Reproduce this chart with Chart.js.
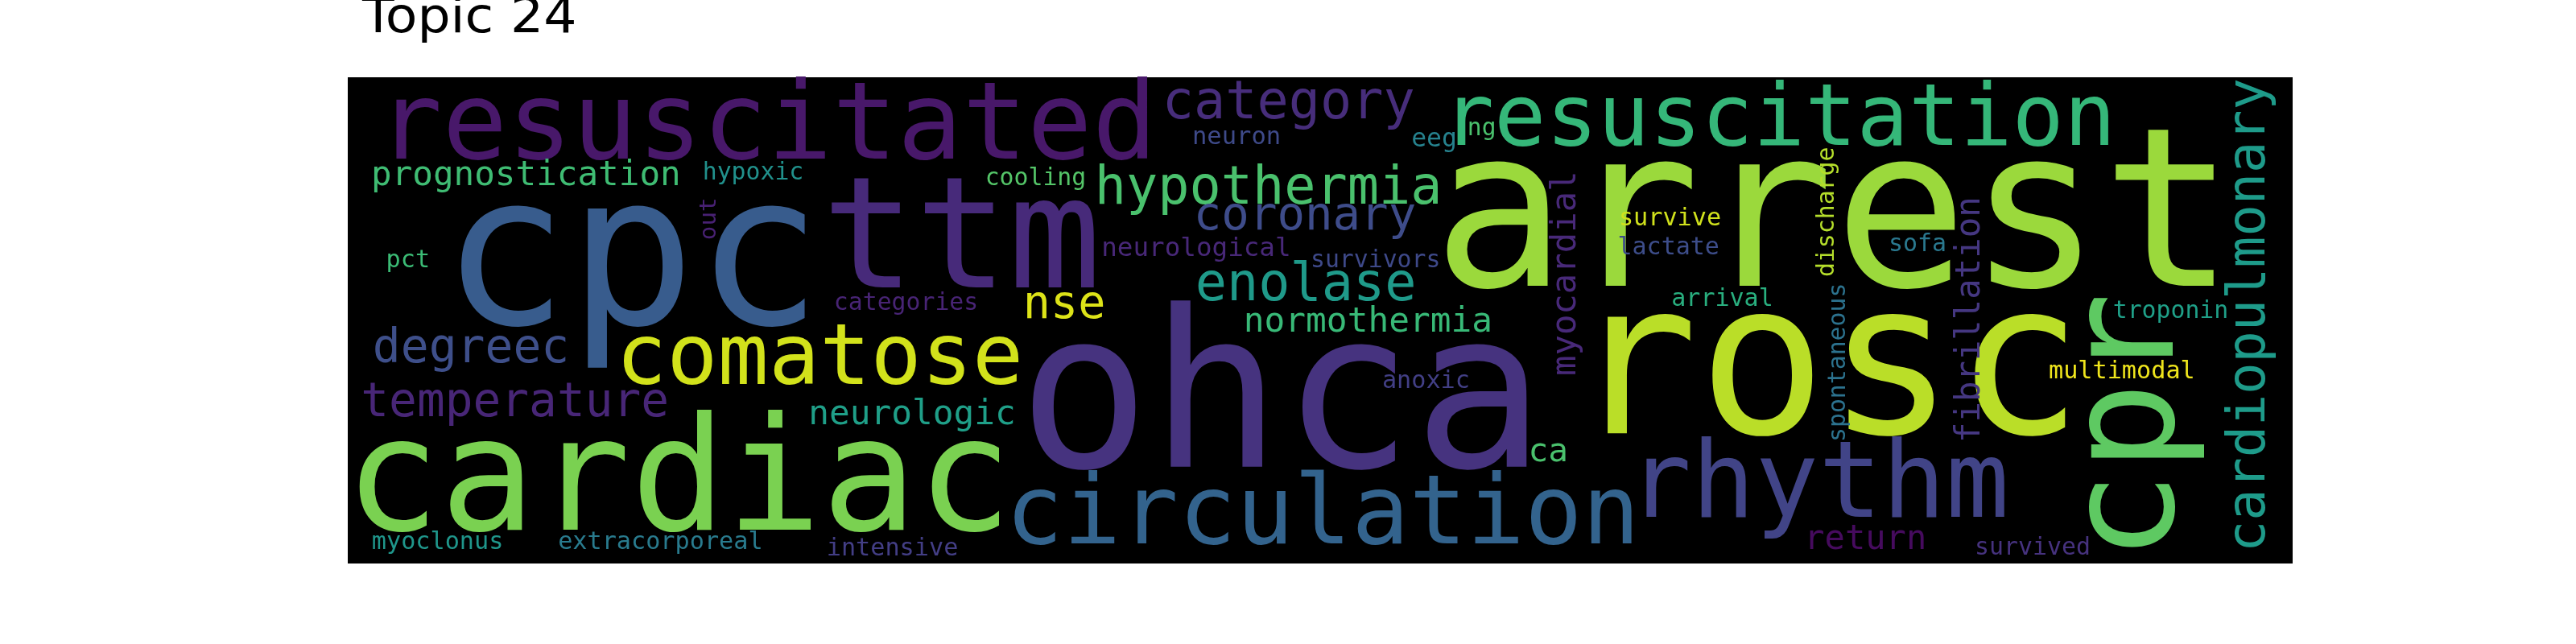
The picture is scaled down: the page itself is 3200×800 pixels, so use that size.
<!DOCTYPE html>
<html>
<head>
<meta charset="utf-8">
<script src="https://cdn.jsdelivr.net/npm/chart.js@4.4.1/dist/chart.umd.min.js"></script>
<style>
  html, body { margin: 0; padding: 0; background: #ffffff; }
  canvas { display: block; }
</style>
</head>
<body>
<canvas id="cloud" width="3200" height="800"></canvas>
<script>
// word cloud for topic 24, cloud space is 400 x 100 (y down)
const words = ['resuscitated', 'category', 'resuscitation', 'neuron', 'eeg', 'ng',
  'prognostication', 'hypoxic', 'cooling', 'hypothermia', 'coronary', 'neurological',
  'survivors', 'enolase', 'pct', 'categories', 'cpc', 'ttm', 'arrest', 'survive',
  'lactate', 'sofa', 'rosc', 'troponin', 'multimodal', 'rhythm', 'return', 'survived',
  'arrival', 'ohca', 'comatose', 'degreec', 'temperature', 'neurologic', 'cardiac',
  'myoclonus', 'extracorporeal', 'intensive', 'circulation', 'normothermia', 'anoxic',
  'ca', 'nse', 'out', 'myocardial', 'discharge', 'fibrillation', 'cardiopulmonary',
  'cpr', 'spontaneous'];

// left edge of ink (horizontal) or baseline (vertical)
const wordX = [9.9, 168.5, 228.1, 174.0, 218.9, 230.6,
  5.3, 73.3, 131.4, 154.6, 174.8, 155.5,
  198.5, 174.8, 8.2, 100.3, 23.3, 99.5, 226.0, 261.9,
  261.5, 317.4, 258.9, 363.2, 350.0, 267.1, 300.7, 335.1,
  272.4, 140.7, 56.8, 5.6, 3.2, 95.4, 2.3,
  5.1, 43.4, 98.8, 137.1, 184.9, 212.9,
  243.3, 139.7, 75.7, 252.5, 305.6, 335.6, 394.2,
  375.3, 307.9];

// baseline (horizontal) or bottom of ink (vertical)
const wordY = [16.7, 8.4, 13.9, 13.7, 14.2, 11.9,
  22.2, 21.0, 22.2, 26.0, 31.3, 36.8,
  39.1, 45.9, 39.0, 47.8, 50.7, 43.2, 42.9, 30.5,
  36.5, 35.7, 73.2, 49.5, 61.9, 90.4, 97.0, 98.2,
  47.1, 80.1, 63.0, 58.6, 69.7, 71.3, 93.1,
  97.0, 97.0, 98.3, 95.9, 52.4, 63.9,
  78.9, 49.5, 33.3, 61.1, 40.9, 74.5, 96.7,
  96.7, 74.5];

const wordSize = [22.2, 10.8, 17.7, 5.05, 5.2, 4.9,
  7.05, 4.93, 4.93, 10.8, 9.5, 5.4,
  4.93, 10.8, 5.0, 4.93, 43.4, 31.8, 45.7, 5.0,
  4.97, 4.95, 43.8, 4.93, 5.0, 21.7, 6.97, 4.95,
  4.97, 45.0, 17.4, 9.6, 9.57, 7.09, 32.6,
  5.0, 5.0, 5.0, 19.7, 7.09, 5.0,
  6.8, 9.4, 4.83, 7.0, 4.93, 7.0, 10.8,
  30.6, 4.93];

const wordVertical = words.map((w, i) => i >= 43);

const wordColor = ['#48186a', '#472d7b', '#35b779', '#3e4a89', '#26828e', '#4ac16d',
  '#3fbc73', '#21918c', '#54c568', '#4ac16d', '#3e4c8a', '#482878',
  '#3e4989', '#1f9a8a', '#3bbb75', '#482475', '#385c8d', '#472a7a', '#9bd93c', '#d0e11c',
  '#3d4d8a', '#2a788e', '#bade28', '#1fa088', '#efe51c', '#414487', '#460b5e', '#46327e',
  '#29af7f', '#46337f', '#d2e21b', '#3e4f8a', '#482677', '#1f9f88', '#7ad151',
  '#1f968b', '#297b8e', '#433e85', '#33638d', '#38b977', '#423f85',
  '#4ac16d', '#dde318', '#482173', '#482979', '#b5de2b', '#453781', '#1e9b8a',
  '#5ec962', '#2c728e'];

const cloudPlugin = {
  id: 'cloud',
  beforeDatasetsDraw(chart) {
    const { ctx, chartArea: a } = chart;
    ctx.save();
    ctx.fillStyle = '#000000';
    ctx.fillRect(a.left, a.top, a.right - a.left, a.bottom - a.top);
    ctx.restore();
  },
  afterDatasetsDraw(chart) {
    const ctx = chart.ctx;
    const xs = chart.scales.x;
    const unit = xs.getPixelForValue(1) - xs.getPixelForValue(0);
    const meta = chart.getDatasetMeta(0);
    ctx.save();
    ctx.textBaseline = 'alphabetic';
    ctx.textAlign = 'left';
    meta.data.forEach((pt, i) => {
      ctx.font = (wordSize[i] * unit).toFixed(1) + 'px "DejaVu Sans Mono"';
      ctx.fillStyle = wordColor[i];
      const m = ctx.measureText(words[i]);
      const abl = m.actualBoundingBoxLeft;
      ctx.save();
      if (wordVertical[i]) {
        ctx.translate(pt.x, pt.y - abl);
        ctx.rotate(-Math.PI / 2);
        ctx.fillText(words[i], 0, 0);
      } else {
        ctx.fillText(words[i], pt.x + abl, pt.y);
      }
      ctx.restore();
    });

    // title, left aligned above the cloud, top edge cut by the page
    ctx.font = '60px "DejaVu Sans"';
    ctx.fillStyle = '#000000';
    const t = ctx.measureText('Topic 24');
    const inkW = t.actualBoundingBoxLeft + t.actualBoundingBoxRight;
    const sx = 264 / inkW;
    ctx.translate(449 + t.actualBoundingBoxLeft * sx, 40);
    ctx.scale(sx, 1);
    ctx.fillText('Topic 24', 0, 0);
    ctx.restore();
  }
};

new Chart(document.getElementById('cloud'), {
  type: 'scatter',
  data: {
    datasets: [{
      data: words.map((w, i) => ({ x: wordX[i], y: wordY[i] })),
      pointRadius: 0,
      pointHoverRadius: 0
    }]
  },
  options: {
    responsive: false,
    animation: false,
    devicePixelRatio: 1,
    layout: { padding: { left: 432, right: 352, top: 96, bottom: 100 } },
    scales: {
      x: { type: 'linear', min: 0, max: 400, display: false },
      y: { type: 'linear', min: 0, max: 100, reverse: true, display: false }
    },
    plugins: {
      legend: { display: false },
      tooltip: { enabled: false }
    }
  },
  plugins: [cloudPlugin]
});
</script>
</body>
</html>
